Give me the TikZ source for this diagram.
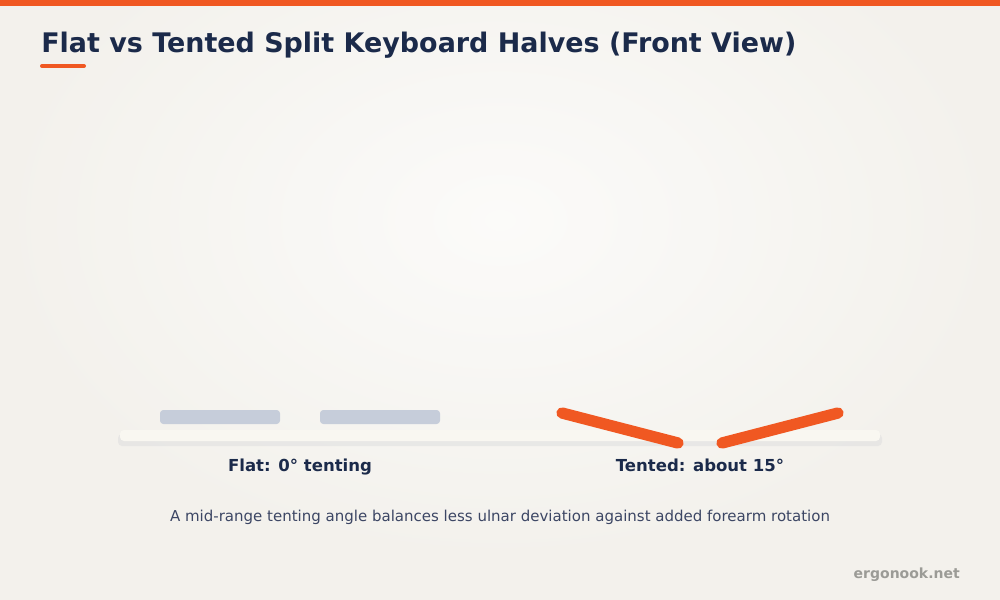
\documentclass[tikz,border=0pt]{standalone}
\usepackage{fontspec}
\setmainfont{DejaVu Sans}
\usepackage{tikz}
\usetikzlibrary{shapes,arrows}

\definecolor{accent}{RGB}{240,88,34}
\definecolor{navy}{RGB}{27,42,74}
\definecolor{keygray}{RGB}{198,205,218}
\definecolor{bgedge}{RGB}{243,241,236}
\definecolor{shelf}{RGB}{249,247,241}
\definecolor{captxt}{RGB}{60,70,100}
\definecolor{sitegray}{RGB}{155,155,150}

\tikzset{
  flatkey/.style={fill=keygray,draw=none,rounded corners=2.5pt},
  tentkey/.style={draw=accent,line width=8.5pt,line cap=round},
  label/.style={anchor=base,inner sep=0.75pt,text=navy,font=\fontsize{12.4}{15}\selectfont\bfseries},
}

\begin{document}
\begin{tikzpicture}[x=0.75pt,y=0.75pt,yscale=-1,xscale=1]
\useasboundingbox (0,0) rectangle (1000,600);
%Background
\fill[bgedge] (0,0) rectangle (1000,600);
\shade[inner color=white!70!bgedge,outer color=bgedge] (0,-120) rectangle (1000,560);
%Top bar
\fill[accent] (0,0) rectangle (1000,6);

% Text Node
\draw (40,52) node (title) [anchor=base west][inner sep=0.75pt][font=\fontsize{20.2}{24}\selectfont\bfseries,text=navy] {Flat vs Tented Split Keyboard Halves (Front View)};
%Underline
\draw [accent,line width=3pt,line cap=round] (42,66) -- (84,66);

%Shelf
\fill [black!12,opacity=0.6,rounded corners=3pt] (118,434) rectangle (882,446);
\fill [shelf,rounded corners=3pt] (120,430) rectangle (880,441);

%Flat halves
\fill [flatkey] (160,410) rectangle (280,424);
\fill [flatkey] (320,410) rectangle (440,424);

%Tented halves
\draw [tentkey] (562,413) -- (678,443);
\draw [tentkey] (722,443) -- (838,413);

% Text Node
\draw (300,471) node (flatlabel) [label] {Flat: 0° tenting};
% Text Node
\draw (700,471) node (tentlabel) [label] {Tented: about 15°};
% Text Node
\draw (500,521) node (caption) [anchor=base][inner sep=0.75pt][font=\fontsize{11.25}{14}\selectfont,text=captxt] {A mid-range tenting angle balances less ulnar deviation against added forearm rotation};
% Text Node
\draw (960,578) node (sitename) [anchor=base east][inner sep=0pt][font=\fontsize{10.5}{13}\selectfont\bfseries,text=sitegray] {ergonook.net};

\end{tikzpicture}
\end{document}
